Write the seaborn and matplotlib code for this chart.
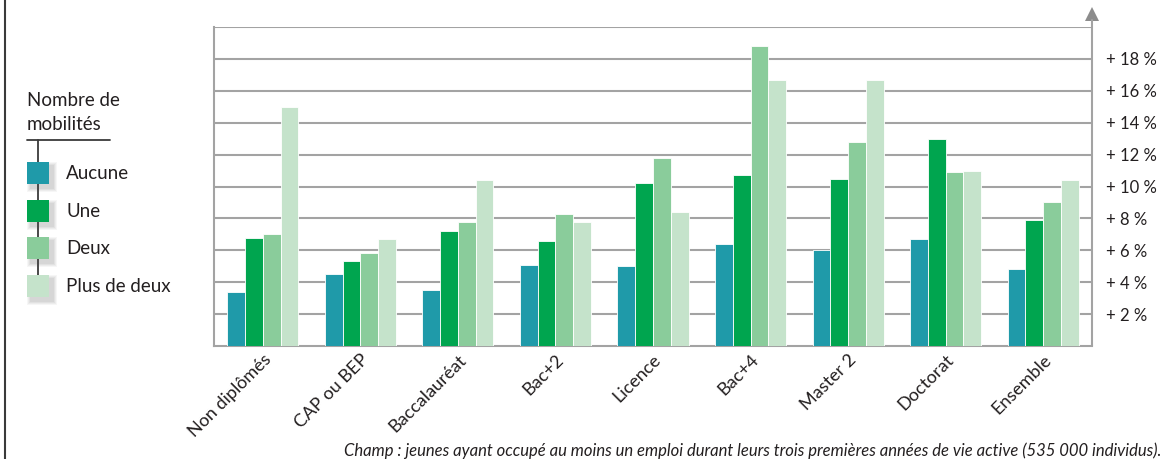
import matplotlib
matplotlib.use("Agg")
import matplotlib.pyplot as plt
import seaborn as sns
import pandas as pd
from matplotlib.patches import Rectangle
from matplotlib.lines import Line2D

categories = ["Non diplômés", "CAP ou BEP", "Baccalauréat", "Bac+2", "Licence",
              "Bac+4", "Master 2", "Doctorat", "Ensemble"]
series = ["Aucune", "Une", "Deux", "Plus de deux"]
aucune = [3.4, 4.5, 3.5, 5.1, 5.0, 6.4, 6.0, 6.7, 4.8]
une = [6.8, 5.3, 7.2, 6.6, 10.2, 10.7, 10.5, 13.0, 7.9]
deux = [7.0, 5.8, 7.8, 8.3, 11.8, 18.8, 12.8, 10.9, 9.0]
plus_de_deux = [15.0, 6.7, 10.4, 7.8, 8.4, 16.7, 16.7, 11.0, 10.4]
tick_values = [2, 4, 6, 8, 10, 12, 14, 16, 18]
tick_labels = ["+ %d %%" % v for v in tick_values]
colors = ["#1f9aa9", "#00a54f", "#8acc9b", "#c5e3cb"]

values = {"Aucune": aucune, "Une": une, "Deux": deux, "Plus de deux": plus_de_deux}
df = pd.DataFrame([
    {"diplome": c, "mobilite": s, "valeur": values[s][i]}
    for s in series for i, c in enumerate(categories)
])

sns.set_style("white")
plt.rcParams["font.family"] = ["Lato", "DejaVu Sans"]

fig = plt.figure(figsize=(11.67, 4.59), dpi=100)
ax = fig.add_axes([214 / 1167, 1 - 346 / 459, 878 / 1167, 319 / 459])

sns.barplot(data=df, x="diplome", y="valeur", hue="mobilite", order=categories,
            hue_order=series, palette=colors, saturation=1, width=0.73, gap=0,
            edgecolor="white", linewidth=0.6, legend=False, ax=ax, zorder=3)

ax.set_xlim(-0.5, 8.5)
ax.set_ylim(0, 20)
for v in range(2, 21, 2):
    ax.axhline(v, color="#a3a3a3", lw=1.5, zorder=1)

ax.yaxis.tick_right()
ax.set_yticks(tick_values)
ax.set_yticklabels(tick_labels, fontsize=12, color="#231f20")
ax.tick_params(axis="y", length=0, pad=10)
ax.tick_params(axis="x", length=0, pad=4)
ax.set_xticks(range(len(categories)))
ax.set_xticklabels(categories, rotation=45, ha="right", rotation_mode="anchor",
                   fontsize=13, color="#231f20")
ax.set_xlabel("")
ax.set_ylabel("")

for side in ["top", "right"]:
    ax.spines[side].set_visible(False)
for side in ["left", "bottom"]:
    ax.spines[side].set_color("#a3a3a3")
    ax.spines[side].set_linewidth(1.5)

# right-hand value axis with arrow head
fig.add_artist(Line2D([1092 / 1167, 1092 / 1167], [1 - 346 / 459, 1 - 20 / 459],
                      transform=fig.transFigure, color="#a3a3a3", lw=1.5))
fig.add_artist(plt.Polygon([[1085 / 1167, 1 - 21 / 459], [1099 / 1167, 1 - 21 / 459],
                            [1092 / 1167, 1 - 7 / 459]], closed=True,
                           transform=fig.transFigure, color="#8c8c8c", lw=0))

# frame line on the left
fig.add_artist(Line2D([4.5 / 1167, 4.5 / 1167], [0, 1], transform=fig.transFigure,
                      color="#3a3a3a", lw=1.5))

# legend drawn by hand
def fx(px):
    return px / 1167

def fy(py):
    return 1 - py / 459

fig.text(fx(27), fy(101), "Nombre de", fontsize=13.5, color="#231f20", va="center")
fig.text(fx(27), fy(125), "mobilités", fontsize=13.5, color="#231f20", va="center")
fig.add_artist(Line2D([fx(27), fx(110)], [fy(140), fy(140)], transform=fig.transFigure,
                      color="#3a3a3a", lw=1.3, zorder=1))
fig.add_artist(Line2D([fx(38), fx(38)], [fy(140), fy(296)], transform=fig.transFigure,
                      color="#3a3a3a", lw=1.3, zorder=1))
centers = [173, 211, 248, 286]
sq = 22
for cy, col, lab in zip(centers, colors, series):
    for k, a in enumerate([0.05, 0.06, 0.07, 0.08]):
        grow = 8 - 2 * k
        fig.add_artist(Rectangle((fx(27 + 4 - grow / 2), fy(cy + sq / 2 + 4 + grow / 2)),
                                 (sq + grow) / 1167, (sq + grow) / 459,
                                 transform=fig.transFigure, facecolor="#555555",
                                 alpha=a, lw=0, zorder=2))
    fig.add_artist(Rectangle((fx(27), fy(cy + sq / 2)), sq / 1167, sq / 459,
                             transform=fig.transFigure, facecolor=col, lw=0, zorder=3))
    fig.text(fx(66), fy(cy), lab, fontsize=13.5, color="#231f20", va="center")

fig.text(fx(1161), fy(451), "Champ : jeunes ayant occupé au moins un emploi durant leurs "
         "trois premières années de vie active (535 000 individus).",
         fontsize=12, style="italic", color="#231f20", ha="right", va="center")

fig.savefig("out.png", dpi=100)
